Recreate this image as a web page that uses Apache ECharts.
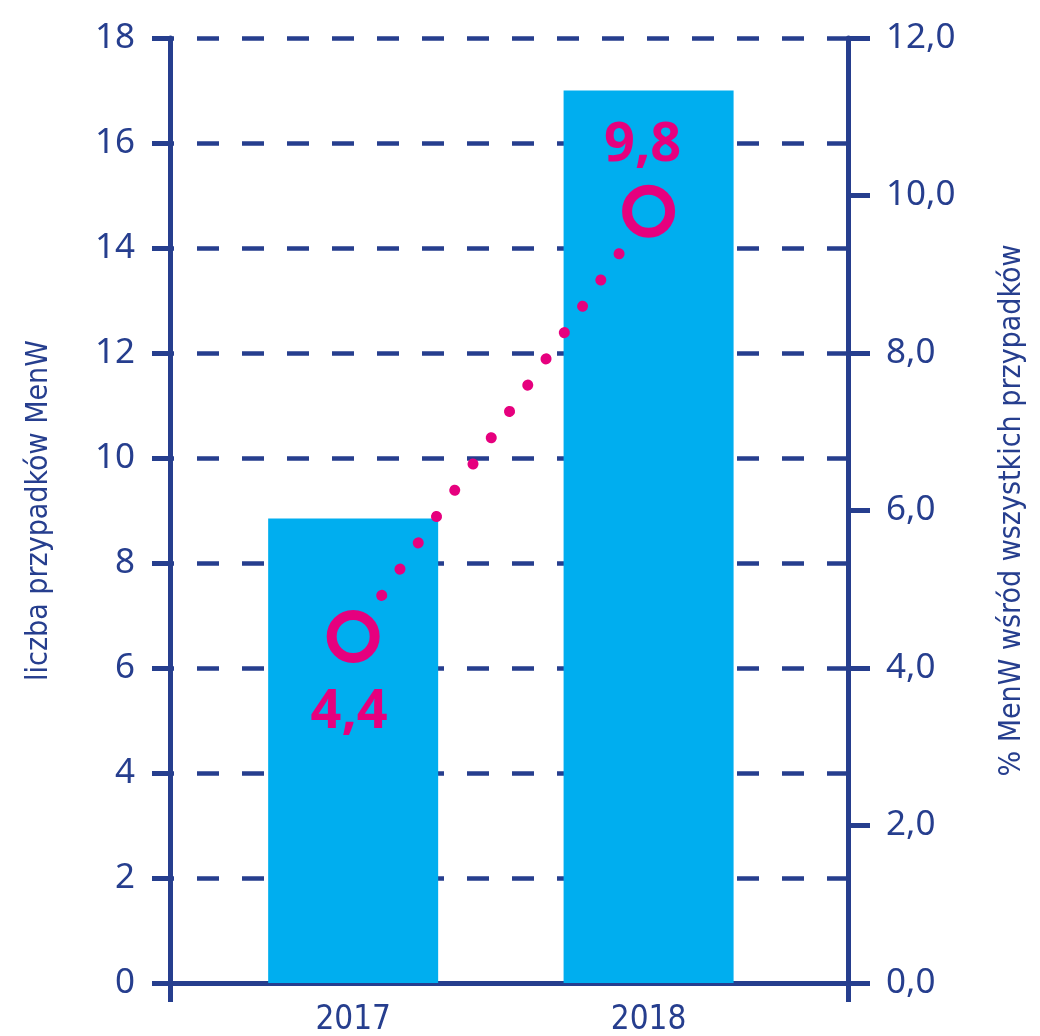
<!DOCTYPE html>
<html>
<head>
<meta charset="utf-8">
<script src="https://cdn.jsdelivr.net/npm/echarts@6/dist/echarts.min.js"></script>
<style>
  html, body { margin: 0; padding: 0; background: #fff; }
  #chart { width: 1040px; height: 1036px; }
</style>
</head>
<body>
<div id="chart"></div>
<script>
// data
const years = ['2017', '2018']
const xPos = [0, 1]
const cases = [8.85, 17]          // liczba przypadków MenW (left axis)
const percent = [4.4, 9.8]        // % MenW wśród wszystkich przypadków (right axis)
const leftTicks = { min: 0, max: 18, interval: 2 }
const rightTicks = { min: 0, max: 12, interval: 2 }

const navy = '#263E8E'
const blue = '#00AEEF'
const pink = '#E6007E'
const narrow = '"Liberation Sans Narrow", "DejaVu Sans Condensed", sans-serif'

const chart = echarts.init(document.getElementById('chart'), null, { renderer: 'canvas' })

chart.setOption({
  animation: false,
  grid: {
    left: 170,
    right: 192,
    top: 38,
    bottom: 53,
    containLabel: false,
    outerBoundsMode: 'none'
  },
  xAxis: {
    type: 'value',
    min: -0.62,
    max: 1.675,
    axisLine: { show: true, onZero: false, lineStyle: { color: navy, width: 5 } },
    axisTick: {
      show: true,
      customValues: [-0.62, 1.675],
      length: 19,
      lineStyle: { color: navy, width: 5 }
    },
    axisLabel: {
      customValues: xPos,
      formatter: (v) => years[Math.round(v)],
      margin: 21,
      color: navy,
      fontFamily: narrow,
      fontSize: 33
    },
    splitLine: { show: false }
  },
  yAxis: [
    {
      type: 'value',
      position: 'left',
      min: leftTicks.min,
      max: leftTicks.max,
      interval: leftTicks.interval,
      name: 'liczba przypadków MenW',
      nameLocation: 'middle',
      nameRotate: 90,
      nameGap: 116,
      nameTextStyle: { color: navy, fontFamily: narrow, fontSize: 30 },
      axisLine: { show: true, onZero: false, lineStyle: { color: navy, width: 5 } },
      axisTick: { show: true, length: 18, lineStyle: { color: navy, width: 5 } },
      axisLabel: { margin: 35, color: navy, fontFamily: 'Noto Sans', fontSize: 35 },
      splitLine: {
        show: true,
        lineStyle: { color: navy, width: 4.5, type: [22, 23], dashOffset: 18 }
      }
    },
    {
      type: 'value',
      position: 'right',
      min: rightTicks.min,
      max: rightTicks.max,
      interval: rightTicks.interval,
      name: '% MenW wśród wszystkich przypadków',
      nameLocation: 'middle',
      nameRotate: 90,
      nameGap: 149,
      nameTextStyle: { color: navy, fontFamily: narrow, fontSize: 30 },
      axisLine: { show: true, onZero: false, lineStyle: { color: navy, width: 5 } },
      axisTick: { show: true, length: 22, lineStyle: { color: navy, width: 5 } },
      axisLabel: {
        margin: 38,
        color: navy,
        fontFamily: 'Noto Sans',
        fontSize: 35,
        formatter: (v) => v.toFixed(1).replace('.', ',')
      },
      splitLine: { show: false }
    }
  ],
  series: [
    {
      type: 'bar',
      yAxisIndex: 0,
      barWidth: 170,
      itemStyle: { color: blue },
      emphasis: { disabled: true },
      data: xPos.map((x, i) => [x, cases[i]])
    },
    {
      type: 'line',
      yAxisIndex: 1,
      z: 5,
      symbol: 'circle',
      symbolSize: 43,
      itemStyle: { color: blue, borderColor: pink, borderWidth: 10 },
      lineStyle: { color: pink, width: 11, type: [0.1, 31.9], dashOffset: 14, cap: 'round' },
      emphasis: { disabled: true },
      label: {
        show: true,
        position: 'inside',
        color: pink,
        fontFamily: 'Noto Sans',
        fontWeight: 'bold',
        fontSize: 54,
        formatter: (p) => String(p.value[1]).replace('.', ',')
      },
      data: [
        { value: [xPos[0], percent[0]], label: { offset: [-4, 76] } },
        { value: [xPos[1], percent[1]], label: { offset: [-6, -66] } }
      ]
    }
  ]
})
</script>
</body>
</html>
